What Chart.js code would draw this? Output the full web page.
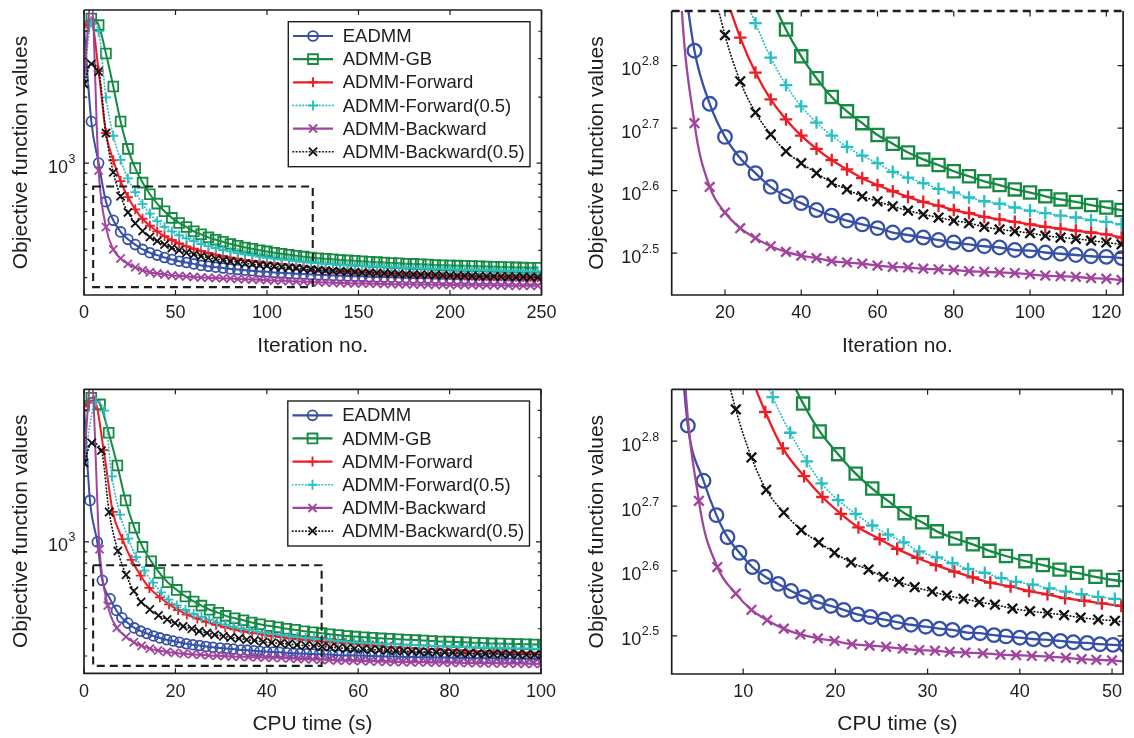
<!DOCTYPE html>
<html>
<head>
<meta charset="utf-8">
<script src="https://cdn.jsdelivr.net/npm/chart.js@4.4.1/dist/chart.umd.min.js"></script>
<style>
  body { margin: 0; background: #fff; width: 1134px; height: 738px; overflow: hidden; position: relative; }
  canvas { position: absolute; }
</style>
</head>
<body>
<canvas id="tl" width="567" height="369" style="left:0;top:0"></canvas>
<canvas id="tr" width="567" height="369" style="left:567px;top:0"></canvas>
<canvas id="bl" width="567" height="369" style="left:0;top:369px"></canvas>
<canvas id="br" width="567" height="369" style="left:567px;top:369px"></canvas>
<script>
const seriesNames = ['EADMM', 'ADMM-GB', 'ADMM-Forward', 'ADMM-Forward(0.5)', 'ADMM-Backward', 'ADMM-Backward(0.5)'];

// iteration number of every marker (one marker each 4 iterations)
const iterMarks = [0,4,8,12,16,20,24,28,32,36,40,44,48,52,56,60,64,68,72,76,80,84,88,92,96,100,
  104,108,112,116,120,124,128,132,136,140,144,148,152,156,160,164,168,172,176,180,184,188,192,196,
  200,204,208,212,216,220,224,228,232,236,240,244,248,252,256,260,264,268,272,276,280];

// log10 of the objective value at each marker
const eadmmLog = [3.624,3.190,3.000,2.824,2.739,2.686,2.652,2.628,2.606,2.591,2.580,2.569,2.560,2.552,2.546,2.540,
  2.533,2.529,2.525,2.521,2.517,2.514,2.511,2.509,2.505,2.504,2.501,2.499,2.497,2.495,2.494,2.492,
  2.490,2.489,2.487,2.486,2.485,2.484,2.483,2.481,2.480,2.480,2.479,2.478,2.477,2.476,2.475,2.475,
  2.474,2.473,2.473,2.472,2.472,2.471,2.470,2.470,2.469,2.469,2.468,2.468,2.467,2.467,2.467,
  2.466,2.466,2.466,2.465,2.465,2.465,2.464,2.464];
const gbLog = [3.624,3.660,3.630,3.500,3.350,3.190,3.065,2.977,2.911,2.858,2.815,2.780,2.750,2.727,2.708,2.689,
  2.675,2.661,2.650,2.641,2.631,2.623,2.615,2.609,2.602,2.597,2.591,2.586,2.582,2.577,2.573,2.569,
  2.566,2.563,2.561,2.558,2.556,2.554,2.552,2.550,2.548,2.546,2.544,2.543,2.541,2.540,2.538,2.537,
  2.535,2.534,2.533,2.532,2.531,2.530,2.529,2.528,2.527,2.526,2.525,2.524,2.523,2.522,2.522];
const fwdLog = [3.620,3.647,3.420,3.137,3.013,2.918,2.845,2.789,2.746,2.714,2.688,2.667,2.649,2.634,2.620,2.609,
  2.599,2.590,2.582,2.576,2.569,2.564,2.558,2.554,2.550,2.546,2.542,2.539,2.536,2.533,2.530,2.525,
  2.522,2.519,2.516,2.514,2.511,2.509,2.507,2.505,2.504,2.502,2.500,2.499,2.497,2.496,2.494,2.493,
  2.492,2.491,2.489,2.488,2.487,2.486,2.485,2.484,2.483,2.483,2.482,2.481,2.480,2.479,2.479];
const fwd05Log = [3.365,3.642,3.601,3.300,3.125,3.015,2.930,2.868,2.813,2.769,2.735,2.709,2.688,2.670,2.656,2.644,
  2.630,2.621,2.612,2.603,2.597,2.589,2.583,2.579,2.573,2.568,2.564,2.560,2.557,2.553,2.550,2.546,
  2.543,2.540,2.538,2.536,2.534,2.533,2.531,2.529,2.528,2.526,2.525,2.523,2.522,2.521,2.519,2.518,
  2.517,2.516,2.515,2.514,2.513,2.512,2.512,2.511,2.510,2.509,2.508,2.508,2.507,2.506,2.506];
const bwdLog = [3.360,3.750,2.966,2.708,2.606,2.565,2.540,2.524,2.511,2.502,2.496,2.492,2.487,2.485,2.483,2.480,
  2.478,2.477,2.475,2.474,2.473,2.471,2.470,2.469,2.468,2.466,2.464,2.463,2.462,2.460,2.459,2.457,
  2.456,2.455,2.454,2.453,2.452,2.451,2.450,2.450,2.449,2.448,2.448,2.447,2.447,2.446,2.446,2.445,
  2.445,2.444,2.444,2.443,2.443,2.443,2.442,2.442,2.442,2.441,2.441,2.440,2.440,2.440,2.440];
const bwd05Log = [3.362,3.453,3.418,3.137,2.958,2.849,2.775,2.725,2.690,2.663,2.644,2.628,2.613,2.602,2.591,2.583,
  2.575,2.568,2.562,2.557,2.552,2.548,2.542,2.538,2.535,2.532,2.528,2.525,2.523,2.520,2.517,2.514,
  2.512,2.510,2.508,2.506,2.505,2.503,2.501,2.500,2.498,2.497,2.496,2.494,2.493,2.492,2.491,2.490,
  2.489,2.488,2.487,2.486,2.486,2.485,2.484,2.483,2.483,2.482,2.481,2.480,2.480,2.479,2.479];

// CPU time (s) at the same markers
const eadmmTime = [0,1.3,2.9,4.0,5.7,7.1,8.3,9.6,11.0,12.4,13.8,15.2,16.6,18.1,19.5,20.9,22.4,23.8,25.3,26.7,
  28.2,29.8,31.3,32.7,34.3,35.7,37.2,38.5,40.0,41.4,42.8,44.4,45.8,47.3,48.7,50.1,51.5,53.0,54.4,55.8,
  57.3,58.7,60.2,61.6,63.0,64.5,65.9,67.4,68.8,70.2,71.7,73.1,74.6,76.0,77.4,78.9,80.3,81.8,83.2,84.6,
  86.1,87.5,89.0,90.4,91.8,93.3,94.7,96.2,97.6,99.0,100.5];
const gbTime = [0,1.6,3.5,5.4,7.3,9.1,11.0,12.8,14.7,16.5,18.3,20.3,22.2,24.0,25.7,27.5,29.4,31.0,33.0,34.9,
  36.7,38.5,40.6,42.5,44.3,46.2,48.2,50.1,52.0,53.8,55.7,57.6,59.4,61.3,63.1,65.0,66.9,68.7,70.6,72.5,
  74.3,76.2,78.0,79.9,81.8,83.6,85.5,87.4,89.2,91.1,93.0,94.8,96.7,98.5,100.4];
const fwdTime = [0,2.3,4.3,6.3,8.4,10.4,12.4,14.3,16.6,18.6,20.6,22.5,24.8,26.7,28.9,30.9,32.9,34.9,36.8,39.0,
  41.0,43.0,44.9,47.0,48.9,51.0,53.0,55.0,57.1,59.1,61.1,63.2,65.2,67.2,69.3,71.3,73.3,75.4,77.4,79.4,
  81.5,83.5,85.5,87.6,89.6,91.6,93.6,95.7,97.7,99.7,101.8];
const fwd05Time = [0,2.6,4.4,6.1,7.9,9.7,11.4,13.2,15.1,16.9,18.5,20.3,22.2,24.0,25.7,27.4,29.1,31.0,32.7,34.4,
  36.2,38.0,39.6,41.4,43.2,45.0,46.7,48.5,50.3,52.1,53.8,55.6,57.4,59.1,60.9,62.7,64.5,66.2,68.0,69.8,
  71.5,73.3,75.1,76.8,78.6,80.4,82.1,83.9,85.7,87.5,89.2,91.0,92.8,94.5,96.3,98.1,99.8,101.6];
const bwdTime = [0,1.6,3.4,5.2,7.2,9.2,10.9,12.6,14.4,16.2,18.1,19.9,21.8,23.7,25.5,27.3,29.1,30.8,32.4,34.1,
  36.0,37.9,39.6,41.3,43.2,45.0,46.7,48.3,50.0,51.8,53.6,55.4,57.2,58.9,60.7,62.5,64.3,66.1,67.9,69.7,
  71.5,73.3,75.1,76.9,78.6,80.4,82.2,84.0,85.8,87.6,89.4,91.2,93.0,94.8,96.5,98.3,100.1];
const bwd05Time = [0,1.7,3.8,5.5,7.4,9.2,10.9,12.5,14.4,16.3,18.2,19.9,21.7,23.6,25.2,26.9,28.6,30.5,32.1,33.9,
  35.6,37.3,39.2,41.1,43.0,44.8,46.6,48.5,50.3,52.1,53.9,55.7,57.5,59.2,61.0,62.8,64.6,66.4,68.2,70.0,
  71.8,73.5,75.3,77.1,78.9,80.7,82.5,84.3,86.1,87.8,89.6,91.4,93.2,95.0,96.8,98.6,100.4];

// tick positions
const tlXTicks = [0, 50, 100, 150, 200, 250];
const trXTicks = [20, 40, 60, 80, 100, 120];
const blXTicks = [0, 20, 40, 60, 80, 100];
const brXTicks = [10, 20, 30, 40, 50];
const leftYExps = [3];
const leftYMinor = [300, 400, 500, 600, 700, 800, 900, 2000, 3000, 4000];
const rightYExps = [2.5, 2.6, 2.7, 2.8];

const FONT = "'Liberation Sans', Arial, Helvetica, sans-serif";
const INK = '#1e1e1e';

const allLogs = [eadmmLog, gbLog, fwdLog, fwd05Log, bwdLog, bwd05Log];
const allTimes = [eadmmTime, gbTime, fwdTime, fwd05Time, bwdTime, bwd05Time];

const looks = [
  { color: '#3550a6', marker: 'circle',   r: [4.9, 6.8], dash: [] },
  { color: '#168a43', marker: 'rect',     r: [6.9, 8.6], dash: [] },
  { color: '#ee1c24', marker: 'cross',    r: [5.0, 6.3], dash: [] },
  { color: '#27bfc2', marker: 'cross',    r: [5.0, 6.3], dash: [0.5, 2.8] },
  { color: '#a0449d', marker: 'crossRot', r: [5.8, 6.8], dash: [] },
  { color: '#111111', marker: 'crossRot', r: [5.8, 6.8], dash: [0.5, 2.8] }
];

function makeSets(xLists, big) {
  return allLogs.map((lg, i) => {
    const lk = looks[i];
    const xs = xLists[i];
    const pts = [];
    for (let k = 0; k < xs.length && k < lg.length; k++) {
      pts.push({ x: xs[k], y: Math.pow(10, lg[k]) });
    }
    const dotted = lk.dash.length > 0;
    return {
      label: seriesNames[i],
      data: pts,
      borderColor: lk.color,
      backgroundColor: 'rgba(0,0,0,0)',
      borderWidth: dotted ? 1.7 : (big ? 2.3 : 2.0),
      borderDash: lk.dash,
      borderCapStyle: dotted ? 'round' : 'butt',
      pointStyle: lk.marker,
      pointRadius: lk.r[big ? 1 : 0],
      pointBorderWidth: big ? 2.3 : 1.8,
      pointBorderColor: lk.color,
      pointBackgroundColor: 'rgba(0,0,0,0)',
      tension: 0.4,
      cubicInterpolationMode: 'monotone',
      order: 6 - i
    };
  });
}

function drawMarker(ctx, kind, x, y, r, color, lw) {
  ctx.strokeStyle = color;
  ctx.lineWidth = lw;
  ctx.setLineDash([]);
  ctx.beginPath();
  if (kind === 'circle') {
    ctx.arc(x, y, r, 0, 2 * Math.PI);
  } else if (kind === 'rect') {
    const s = r * Math.SQRT1_2;
    ctx.rect(x - s, y - s, 2 * s, 2 * s);
  } else if (kind === 'cross') {
    ctx.moveTo(x - r, y); ctx.lineTo(x + r, y);
    ctx.moveTo(x, y - r); ctx.lineTo(x, y + r);
  } else {
    const s = r * Math.SQRT1_2;
    ctx.moveTo(x - s, y - s); ctx.lineTo(x + s, y + s);
    ctx.moveTo(x - s, y + s); ctx.lineTo(x + s, y - s);
  }
  ctx.stroke();
}

function drawLegend(ctx, area) {
  const L = area.right - 253.2, T = area.top + 11.7, W = 241.7, H = 145;
  ctx.fillStyle = '#fff';
  ctx.fillRect(L, T, W, H);
  ctx.strokeStyle = INK;
  ctx.lineWidth = 1.4;
  ctx.setLineDash([]);
  ctx.strokeRect(L, T, W, H);
  seriesNames.forEach((name, i) => {
    const lk = looks[i];
    const y = T + 14.3 + i * 23.15;
    const dotted = lk.dash.length > 0;
    ctx.strokeStyle = lk.color;
    ctx.lineWidth = dotted ? 1.7 : 2.2;
    ctx.lineCap = dotted ? 'round' : 'butt';
    ctx.setLineDash(lk.dash);
    ctx.beginPath();
    ctx.moveTo(L + 4.7, y);
    ctx.lineTo(L + 44.7, y);
    ctx.stroke();
    ctx.lineCap = 'butt';
    drawMarker(ctx, lk.marker, L + 24.7, y, lk.r[0], lk.color, 1.9);
    ctx.fillStyle = INK;
    ctx.font = '18.5px ' + FONT;
    ctx.textAlign = 'left';
    ctx.textBaseline = 'middle';
    ctx.fillText(name, L + 54.4, y + 1);
  });
}

function drawPowLabel(ctx, exp, xRight, y) {
  const sup = String(exp);
  ctx.font = '18px ' + FONT;
  const w1 = ctx.measureText('10').width;
  ctx.font = '12.5px ' + FONT;
  const w2 = ctx.measureText(sup).width;
  const x0 = xRight - w1 - w2 - 0.5;
  ctx.fillStyle = INK;
  ctx.textAlign = 'left';
  ctx.textBaseline = 'middle';
  ctx.font = '18px ' + FONT;
  ctx.fillText('10', x0, y + 4.5);
  ctx.font = '12.5px ' + FONT;
  ctx.fillText(sup, x0 + w1 + 0.5, y - 4);
}

// frame, inward ticks, power-of-ten labels, zoom rectangle and legend
function makeDeco(cfg) {
  return {
    id: 'panelDeco',
    afterDatasetsDraw(chart) {
      const { ctx, chartArea: a, scales } = chart;
      const xs = scales.x, ys = scales.y;
      ctx.save();
      if (cfg.box) {
        const x1 = xs.getPixelForValue(cfg.box.x[0]), x2 = xs.getPixelForValue(cfg.box.x[1]);
        const y1 = ys.getPixelForValue(cfg.box.y[1]), y2 = ys.getPixelForValue(cfg.box.y[0]);
        ctx.strokeStyle = INK;
        ctx.lineWidth = 2.1;
        ctx.setLineDash([8, 5]);
        ctx.strokeRect(x1, y1, x2 - x1, y2 - y1);
      }
      ctx.setLineDash([]);
      ctx.strokeStyle = INK;
      ctx.lineWidth = 1.7;
      ctx.beginPath();
      ctx.moveTo(a.left, a.top); ctx.lineTo(a.left, a.bottom);
      ctx.lineTo(a.right, a.bottom); ctx.lineTo(a.right, a.top);
      ctx.stroke();
      if (cfg.dashedTop) {
        ctx.lineWidth = 2.3;
        ctx.setLineDash([8, 5]);
      }
      ctx.beginPath();
      ctx.moveTo(a.left, a.top); ctx.lineTo(a.right, a.top);
      ctx.stroke();
      ctx.setLineDash([]);
      ctx.lineWidth = 1.2;
      const tk = cfg.tickLen;
      ctx.beginPath();
      cfg.xTicks.forEach(v => {
        const px = xs.getPixelForValue(v);
        ctx.moveTo(px, a.bottom); ctx.lineTo(px, a.bottom - tk);
        ctx.moveTo(px, a.top); ctx.lineTo(px, a.top + tk);
      });
      cfg.yExps.forEach(e => {
        const py = ys.getPixelForValue(Math.pow(10, e));
        ctx.moveTo(a.left, py); ctx.lineTo(a.left + tk, py);
        ctx.moveTo(a.right, py); ctx.lineTo(a.right - tk, py);
      });
      (cfg.yMinor || []).forEach(v => {
        const py = ys.getPixelForValue(v);
        ctx.moveTo(a.left, py); ctx.lineTo(a.left + tk * 0.65, py);
        ctx.moveTo(a.right, py); ctx.lineTo(a.right - tk * 0.65, py);
      });
      ctx.stroke();
      cfg.yExps.forEach(e => {
        const py = ys.getPixelForValue(Math.pow(10, e));
        drawPowLabel(ctx, e, a.left - cfg.supGap, py);
      });
      if (cfg.legend) drawLegend(ctx, a);
      ctx.restore();
    }
  };
}

function makeChart(id, cfg) {
  return new Chart(document.getElementById(id), {
    type: 'line',
    data: { datasets: cfg.sets },
    options: {
      responsive: false,
      animation: false,
      events: [],
      layout: { padding: { top: cfg.padTop, right: cfg.padRight, left: 0, bottom: 0 } },
      plugins: { legend: { display: false }, tooltip: { enabled: false } },
      scales: {
        x: {
          type: 'linear', min: cfg.xRange[0], max: cfg.xRange[1],
          afterFit: s => { s.height = cfg.bottomH; },
          afterBuildTicks: s => { s.ticks = cfg.xTicks.map(v => ({ value: v })); },
          grid: { display: false, drawTicks: false },
          border: { display: false },
          ticks: { font: { family: FONT, size: 18 }, color: INK, padding: 7.5, maxRotation: 0, autoSkip: false },
          title: { display: true, text: cfg.xTitle, font: { family: FONT, size: 21 }, color: INK,
                   padding: { top: 0, bottom: cfg.xTitlePad } }
        },
        y: {
          type: 'logarithmic', min: cfg.yRange[0], max: cfg.yRange[1],
          afterFit: s => { s.width = cfg.leftW; },
          afterBuildTicks: s => { s.ticks = cfg.yExps.map(e => ({ value: Math.pow(10, e) })); },
          grid: { display: false, drawTicks: false },
          border: { display: false },
          ticks: { display: false },
          title: { display: true, text: 'Objective function values', font: { family: FONT, size: 21 }, color: INK,
                   padding: { top: cfg.yTitlePad, bottom: 0 } }
        }
      }
    },
    plugins: [makeDeco(cfg)]
  });
}

const iterXs = allLogs.map(() => iterMarks);

makeChart('tl', {
  sets: makeSets(iterXs, false), xRange: [0, 250], yRange: [250, 5000],
  xTicks: tlXTicks, yExps: leftYExps, yMinor: leftYMinor,
  padTop: 10, padRight: 25.5, leftW: 84, bottomH: 74,
  xTitle: 'Iteration no.', xTitlePad: 10, yTitlePad: 9, tickLen: 5, supGap: 8.5,
  legend: true, box: { x: [5, 125], y: [271.6, 781.6] }
});
makeChart('tr', {
  sets: makeSets(iterXs, true), xRange: [6.03, 124.4], yRange: [271.0, 771.9],
  xTicks: trXTicks, yExps: rightYExps,
  padTop: 11, padRight: 5, leftW: 104.7, bottomH: 74,
  xTitle: 'Iteration no.', xTitlePad: 10, yTitlePad: 17.5, tickLen: 5.5, supGap: 12.5,
  dashedTop: true
});
makeChart('bl', {
  sets: makeSets(allTimes, false), xRange: [0, 100], yRange: [250, 5000],
  xTicks: blXTicks, yExps: leftYExps, yMinor: leftYMinor,
  padTop: 20.3, padRight: 26, leftW: 84, bottomH: 64.7,
  xTitle: 'CPU time (s)', xTitlePad: 1.5, yTitlePad: 9, tickLen: 5, supGap: 8.5,
  legend: true, box: { x: [2, 52], y: [270.4, 781.6] }
});
makeChart('br', {
  sets: makeSets(allTimes, true), xRange: [2.25, 51.2], yRange: [276.1, 758.6],
  xTicks: brXTicks, yExps: rightYExps,
  padTop: 20.3, padRight: 5, leftW: 104.7, bottomH: 64,
  xTitle: 'CPU time (s)', xTitlePad: 1.5, yTitlePad: 17.5, tickLen: 5.5, supGap: 12.5
});
</script>
</body>
</html>
